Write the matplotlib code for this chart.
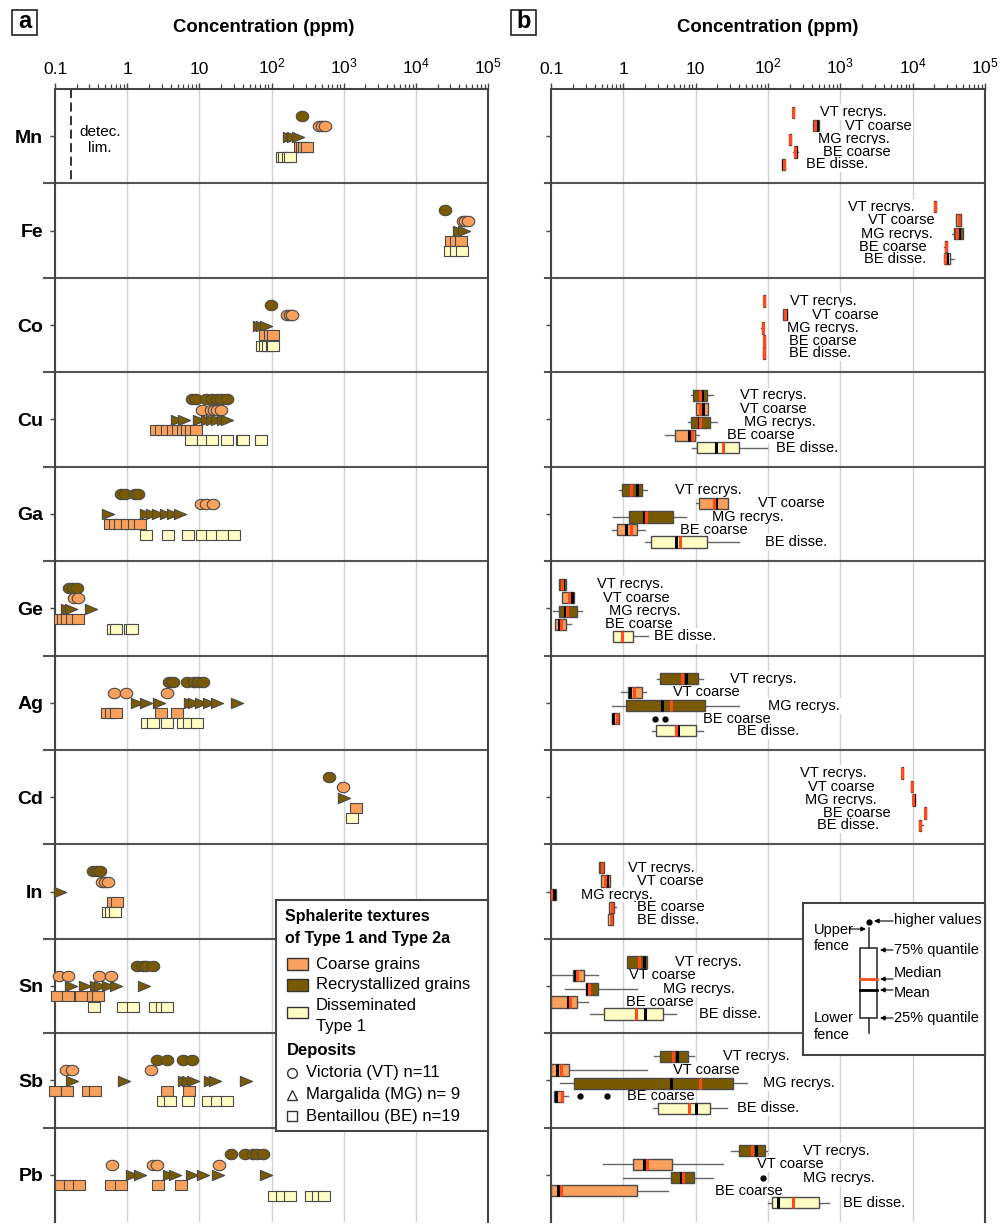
import numpy as np
import matplotlib.pyplot as plt
from matplotlib.patches import Rectangle
from matplotlib.path import Path
from matplotlib.ticker import NullFormatter, LogLocator

plt.rcParams['font.family'] = ['Liberation Sans', 'DejaVu Sans']
plt.rcParams['mathtext.fontset'] = 'custom'
plt.rcParams['mathtext.rm'] = 'Liberation Sans'
plt.rcParams['mathtext.it'] = 'Liberation Sans:italic'
plt.rcParams['mathtext.bf'] = 'Liberation Sans:bold'

elements = ['Mn', 'Fe', 'Co', 'Cu', 'Ga', 'Ge', 'Ag', 'Cd', 'In', 'Sn', 'Sb', 'Pb']
groups = ['VT recrys.', 'VT coarse', 'MG recrys.', 'BE coarse', 'BE disse.']
major_ticks = [0.1, 1, 10, 1e2, 1e3, 1e4, 1e5]
tick_labels = ['0.1', '1', '10', '$10^{2}$', '$10^{3}$', '$10^{4}$', '$10^{5}$']
detection_limit = 0.165

# ---- panel a: single analyses (ppm), one list per element ----
vt_recrys = [
    [265], [25000], [97],
    [8.0, 9.1, 12.2, 14.8, 17.3, 20.2, 23.9],
    [0.82, 0.93, 1.28, 1.43],
    [0.158, 0.179, 0.204],
    [3.83, 4.27, 6.67, 8.42, 9.66, 11.1],
    [630],
    [0.339, 0.386, 0.42],
    [1.35, 1.67, 1.82, 2.30],
    [2.56, 3.52, 5.98, 7.85],
    [27.1, 42.8, 55.8, 62.8, 75.3],
]
vt_coarse = [
    [450, 500, 550], [45000, 48000, 52000], [165, 180, 190],
    [10.8, 14.5, 16, 17.5, 20],
    [10.4, 12.2, 15.3],
    [0.185, 0.21],
    [0.656, 0.96, 3.52],
    [985],
    [0.443, 0.493, 0.547],
    [0.114, 0.153, 0.41, 0.59],
    [0.142, 0.170, 2.11],
    [0.61, 2.30, 2.56, 18.6],
]
mg_recrys = [
    [175, 200, 230], [40000, 46000], [68, 75, 85],
    [4.85, 6.1, 9.96, 12.6, 14.8, 17.4, 21.4, 23.9],
    [0.547, 1.82, 2.18, 2.70, 3.45, 4.35, 5.38],
    [0.148, 0.165, 0.312],
    [1.35, 1.82, 2.78, 7.41, 8.42, 10.4, 13.7, 17.4, 33.5],
    [1020],
    [0.117],
    [0.165, 0.26, 0.37, 0.42, 0.55, 0.71, 1.73],
    [0.17, 0.91, 6.1, 7.0, 8.2, 14.1, 16.4, 44],
    [1.15, 1.5, 3.8, 4.6, 7.85, 11.3, 18.3, 83],
]
be_coarse = [
    [250, 265, 285, 310], [31000, 36000, 42000], [80, 95, 105],
    [2.47, 2.94, 3.56, 4.31, 5.05, 5.93, 6.73, 7.65, 8.97],
    [0.587, 0.678, 0.794, 0.994, 1.24, 1.53],
    [0.119, 0.129, 0.147, 0.172, 0.208],
    [0.525, 0.597, 0.70, 2.91, 4.85],
    [1475],
    [0.635, 0.714],
    [0.107, 0.153, 0.227, 0.339, 0.39],
    [0.1, 0.145, 0.289, 0.36, 3.52, 7.18],
    [0.12, 0.161, 0.217, 0.59, 0.81, 2.7, 5.5],
]
be_disse = [
    [140, 150, 170, 178], [30000, 36000, 43000], [75, 80, 90, 100, 106],
    [7.65, 11.3, 15.1, 23.9, 38.5, 40, 70.6],
    [1.80, 3.71, 6.89, 11.0, 14.8, 20.8, 30.4],
    [0.646, 0.70, 1.09, 1.18],
    [1.90, 2.30, 3.56, 5.98, 7.18, 9.35],
    [1285],
    [0.55, 0.60, 0.68],
    [0.347, 0.885, 1.21, 2.42, 3.0, 3.6],
    [3.14, 3.9, 7.0, 13.3, 17.4, 23.9],
    [110, 141, 178, 350, 445, 535],
]

# ---- panel b: box statistics per element, columns follow `groups` ----
q1_b = [
    [219, 417, 198, 228, 158],
    [20000, 40000, 37800, 28000, 26700],
    [87, 163, 83, 87, 86.5],
    [9.12, 10.1, 8.63, 5.19, 10.6],
    [0.968, 11.2, 1.21, 0.826, 2.42],
    [0.129, 0.141, 0.129, 0.114, 0.713],
    [3.22, 1.17, 1.09, 0.692, 2.83],
    [7100, 9600, 10000, 14700, 12200],
    [0.466, 0.486, 0.100, 0.640, 0.608],
    [1.13, 0.200, 0.302, 0.100, 0.546],
    [3.22, 0.100, 0.210, 0.110, 3.05],
    [39.8, 1.35, 4.53, 0.100, 115],
]
q3_b = [
    [231, 514, 206, 250, 170],
    [21000, 46400, 49400, 29500, 33000],
    [91.5, 182, 86.5, 91, 90.5],
    [14.3, 15.0, 15.8, 9.8, 39.8],
    [1.80, 28.3, 4.92, 1.56, 14.3],
    [0.161, 0.210, 0.226, 0.161, 1.35],
    [10.7, 1.80, 13.5, 0.88, 10.0],
    [7350, 9900, 10700, 15100, 13100],
    [0.541, 0.654, 0.118, 0.743, 0.727],
    [2.15, 0.286, 0.451, 0.231, 3.57],
    [7.78, 0.179, 33.2, 0.148, 15.8],
    [91.2, 4.67, 9.51, 1.53, 514],
]
median_b = [
    [225, 452, 202, 239, 166],
    [20500, 43100, 40900, 28800, 28200],
    [89.2, 172, 84.7, 89, 88],
    [11.5, 11.5, 11.5, 8.84, 24.2],
    [1.26, 18.2, 2.06, 1.26, 6.09],
    [0.141, 0.179, 0.165, 0.138, 0.97],
    [6.43, 1.42, 4.53, 0.83, 5.36],
    [7230, 9750, 10000, 14900, 12700],
    [0.50, 0.559, 0.100, 0.692, 0.670],
    [1.63, 0.231, 0.339, 0.183, 1.50],
    [4.92, 0.136, 11.5, 0.143, 8.19],
    [60.8, 2.15, 6.64, 0.136, 220],
]
mean_b = [
    [225, 473, 202, 241, 160],
    [20500, 43100, 44400, 28800, 30300],
    [89.2, 175, 84.7, 89, 88.5],
    [12.4, 12.8, 11.2, 8.1, 19.0],
    [1.53, 19.2, 1.93, 1.08, 5.36],
    [0.148, 0.193, 0.156, 0.130, 0.95],
    [7.30, 1.24, 3.40, 0.727, 5.65],
    [7230, 9750, 10450, 14900, 12700],
    [0.51, 0.589, 0.110, 0.69, 0.670],
    [1.93, 0.215, 0.315, 0.170, 2.01],
    [5.58, 0.120, 4.53, 0.116, 10.1],
    [67.8, 1.95, 6.23, 0.126, 139],
]
fence_low_b = [
    [219, 417, 198, 220, 156],
    [20000, 40000, 34800, 27500, 26700],
    [87, 163, 81, 87, 85],
    [8.56, 10.1, 7.93, 3.77, 8.84],
    [0.871, 10.1, 0.727, 0.705, 2.01],
    [0.129, 0.141, 0.108, 0.114, 0.713],
    [2.90, 0.92, 0.692, 0.692, 2.47],
    [7100, 9600, 10000, 14700, 12200],
    [0.466, 0.486, 0.100, 0.640, 0.608],
    [1.13, 0.102, 0.156, 0.100, 0.346],
    [2.69, 0.100, 0.133, 0.110, 2.55],
    [30.5, 0.519, 1.0, 0.100, 101],
]
fence_high_b = [
    [231, 514, 206, 258, 172],
    [21000, 46400, 50400, 30000, 36700],
    [91.5, 182, 88, 91, 91],
    [17.6, 15.0, 19.9, 11.2, 96.2],
    [2.15, 28.3, 7.3, 2.01, 40.2],
    [0.161, 0.210, 0.266, 0.187, 2.2],
    [12.5, 2.06, 40.2, 0.88, 12.8],
    [7350, 9900, 10700, 15100, 13700],
    [0.541, 0.654, 0.118, 0.792, 0.727],
    [2.15, 0.443, 1.53, 0.322, 5.31],
    [9.59, 2.11, 50.9, 0.173, 26.9],
    [96.2, 23.7, 17.6, 4.19, 706],
]
outliers_b = {('Ag', 'BE coarse'): [2.74, 3.77],
              ('Sb', 'BE coarse'): [0.252, 0.589],
              ('Pb', 'MG recrys.'): [86.5]}
label_x_b = [
    [526, 1165, 489, 573, 336],
    [1294, 2449, 1922, 1820, 2155],
    [202, 403, 185, 198, 198],
    [41.1, 41.1, 46.7, 27.4, 128],
    [5.19, 73.6, 16.7, 6.09, 91.2],
    [0.436, 0.519, 0.640, 0.559, 2.69],
    [29.9, 4.92, 101, 12.5, 37.0],
    [278, 362, 326, 584, 482],
    [1.17, 1.53, 0.258, 1.56, 1.56],
    [5.19, 1.21, 3.57, 1.09, 11.2],
    [23.7, 4.82, 86.3, 1.14, 37.0],
    [303, 70.0, 309, 18.5, 1083],
]

# ---- styles ----
c_coarse = '#F9A05C'
c_recrys = '#7A5A00'
c_disse = '#FFFDC4'
c_median = '#FF4A1C'
c_edge = '#4A4A4A'
c_spine = '#444444'

group_colors = [c_recrys, c_coarse, c_recrys, c_coarse, c_disse]
offs_a = [-0.215, -0.105, 0.005, 0.11, 0.22]
offs_b = [-0.254, -0.111, 0.032, 0.169, 0.297]

t = np.linspace(0, 2 * np.pi, 41)
ellipse = Path(np.column_stack([1.2 * np.cos(t), np.sin(t)]), closed=True)
tri_right = Path([(1.2, 0), (-1.2, 1), (-1.2, -1), (1.2, 0)], closed=True)
rect = Path([(-1.22, -1), (1.22, -1), (1.22, 1), (-1.22, 1), (-1.22, -1)], closed=True)
group_markers = [ellipse, ellipse, tri_right, rect, rect]
group_ms = [9.0, 9.0, 8.8, 8.2, 8.2]

W, H = 1000, 1224
fig = plt.figure(figsize=(W / 100, H / 100), dpi=100)


def px_axes(x0, x1, y0, y1):
    return fig.add_axes([x0 / W, 1 - y1 / H, (x1 - x0) / W, (y1 - y0) / H])


def style_axis(ax, ylabels, sep_ext):
    n = len(elements)
    ax.set_xscale('log')
    ax.set_xlim(0.1, 1e5)
    ax.set_ylim(n, 0)
    ax.xaxis.tick_top()
    ax.set_xticks(major_ticks, tick_labels)
    ax.xaxis.set_minor_locator(LogLocator(base=10, subs=np.arange(2, 10), numticks=30))
    ax.xaxis.set_minor_formatter(NullFormatter())
    ax.tick_params(axis='x', which='major', length=4.5, width=1, color=c_spine,
                   labelsize=12.5, pad=4.5, top=True, bottom=False,
                   labeltop=True, labelbottom=False)
    ax.tick_params(axis='x', which='minor', length=3.5, width=0.9, color=c_spine,
                   top=True, bottom=False)
    ax.set_yticks(np.arange(n) + 0.5, ylabels)
    ax.tick_params(axis='y', length=3.6, width=1, color=c_spine, pad=5, labelsize=14)
    for lab in ax.get_yticklabels():
        lab.set_fontweight('bold')
    ax.grid(axis='x', which='major', color='#d2d2d2', lw=1)
    ax.set_axisbelow(True)
    for s in ['top', 'left', 'right']:
        ax.spines[s].set_linewidth(1.5)
        ax.spines[s].set_color(c_spine)
    ax.spines['bottom'].set_visible(False)
    for i in range(1, n):
        ax.plot([sep_ext, 1], [i, i], transform=ax.get_yaxis_transform(),
                color='#555555', lw=1.5, clip_on=False, zorder=1)


ax_a = px_axes(55, 488, 89, 1222)
ax_b = px_axes(551, 985, 89, 1222)
style_axis(ax_a, elements, -0.025)
style_axis(ax_b, [''] * len(elements), -0.014)

# panel a points
data_a = [vt_recrys, vt_coarse, mg_recrys, be_coarse, be_disse]
for r in range(len(elements)):
    for g in range(5):
        vals = data_a[g][r]
        ax_a.plot(vals, [r + 0.5 + offs_a[g]] * len(vals), ls='none',
                  marker=group_markers[g], ms=group_ms[g], mfc=group_colors[g],
                  mec=c_edge, mew=0.8, clip_on=False, zorder=4)

ax_a.plot([detection_limit, detection_limit], [0, 1], color='#222222', lw=1.3,
          ls=(0, (5, 2.5)), zorder=2)
ax_a.text(0.42, 0.54, 'detec.\nlim.', ha='center', va='center', fontsize=11,
          linespacing=1.15)

# panel b boxes
stats, positions, colors = [], [], []
for r, el in enumerate(elements):
    for g, name in enumerate(groups):
        stats.append(dict(q1=q1_b[r][g], q3=q3_b[r][g], med=median_b[r][g],
                          mean=mean_b[r][g], whislo=fence_low_b[r][g],
                          whishi=fence_high_b[r][g],
                          fliers=outliers_b.get((el, name), [])))
        positions.append(r + 0.5 + offs_b[g])
        colors.append(group_colors[g])

bxp_kw = dict(positions=positions, widths=0.12, patch_artist=True, showmeans=True,
              meanline=True, showcaps=False, manage_ticks=False,
              boxprops=dict(edgecolor=c_edge, linewidth=1),
              whiskerprops=dict(color='#666666', linewidth=1),
              medianprops=dict(color=c_median, linewidth=2.2),
              meanprops=dict(color='black', linewidth=2.2, linestyle='-'),
              flierprops=dict(marker='o', markerfacecolor='black',
                              markeredgecolor='black', markersize=3.5))
try:
    out = ax_b.bxp(stats, orientation='horizontal', **bxp_kw)
except TypeError:
    out = ax_b.bxp(stats, vert=False, **bxp_kw)
for box, col in zip(out['boxes'], colors):
    box.set_facecolor(col)
    box.set_zorder(4.5)
for ln in out['whiskers']:
    ln.set_zorder(4.4)
for ln in out['means']:
    ln.set_zorder(4.8)
for ln in out['medians']:
    ln.set_zorder(4.9)
for ln in out['fliers']:
    ln.set_zorder(4.9)

for r in range(len(elements)):
    for g, name in enumerate(groups):
        ax_b.text(label_x_b[r][g], r + 0.5 + offs_b[g], name, ha='left', va='center',
                  fontsize=10.5, zorder=3,
                  bbox=dict(facecolor='white', edgecolor='none', pad=0.6))

# ---- overlay in pixel coordinates for titles and keys ----
ov = fig.add_axes([0, 0, 1, 1], zorder=10)
ov.set_xlim(0, W)
ov.set_ylim(H, 0)
ov.axis('off')
ov.patch.set_alpha(0)

for lab, x0, xc in [('a', 12, 264), ('b', 511, 768)]:
    ov.add_patch(Rectangle((x0, 10), 25, 25, fc='white', ec='#222222', lw=1.2))
    ov.text(x0 + 12.5, 22, lab, ha='center', va='center', fontsize=17, fontweight='bold')
    ov.text(xc, 27, 'Concentration (ppm)', ha='center', va='center', fontsize=13.3,
            fontweight='bold')

# key for panel a
ov.add_patch(Rectangle((276, 900), 212, 231, fc='white', ec=c_spine, lw=1.5, zorder=5))
ov.text(285, 917, 'Sphalerite textures', fontsize=11.5, fontweight='bold',
        va='center', zorder=6)
ov.text(285, 938, 'of Type 1 and Type 2a', fontsize=11.5, fontweight='bold',
        va='center', zorder=6)
for y, col in [(958, c_coarse), (979, c_recrys), (1006.5, c_disse)]:
    ov.add_patch(Rectangle((287, y), 21, 11.5, fc=col, ec='#333333', lw=1, zorder=6))
for y, txt in [(964, 'Coarse grains'), (985, 'Recrystallized grains'),
               (1006, 'Disseminated'), (1027, 'Type 1')]:
    ov.text(316, y, txt, fontsize=12, va='center', zorder=6)
ov.text(286.5, 1051, 'Deposits', fontsize=12, fontweight='bold', va='center', zorder=6)
for y, mk, txt in [(1073, 'o', 'Victoria (VT) n=11'),
                   (1095, '^', 'Margalida (MG) n= 9'),
                   (1116, 's', 'Bentaillou (BE) n=19')]:
    ov.plot(291.5, y, marker=mk, ms=7, mfc='none', mec='#333333', mew=1, zorder=6)
    ov.text(306.5, y, txt, fontsize=12, va='center', zorder=6)

# key for panel b
ov.add_patch(Rectangle((803, 903), 182, 152, fc='white', ec=c_spine, lw=1.5, zorder=5))
ov.add_patch(Rectangle((860, 948), 17, 70, fc='white', ec='#333333', lw=1.2, zorder=6))
ov.plot([868.5, 868.5], [928, 948], color='#333333', lw=1.2, zorder=6)
ov.plot([868.5, 868.5], [1018, 1033], color='#333333', lw=1.2, zorder=6)
ov.plot([860, 877], [979, 979], color=c_median, lw=2, zorder=7)
ov.plot([860, 877], [990, 990], color='black', lw=2, zorder=7)
ov.plot(869, 922, 'o', color='black', ms=3.5, zorder=7)
arrow_kw = dict(arrowstyle='-|>', color='black', lw=0.8, mutation_scale=7,
                shrinkA=0, shrinkB=0)
for x0, x1, y in [(893, 874, 921), (849, 866, 929), (893, 880, 950),
                  (893, 880, 979), (893, 880, 990), (893, 880, 1018)]:
    ov.annotate('', xy=(x1, y), xytext=(x0, y), arrowprops=arrow_kw, zorder=7)
for x, y, txt in [(894, 920, 'higher values'), (814, 930, 'Upper'), (814, 946, 'fence'),
                  (894, 950, '75% quantile'), (894, 973, 'Median'), (894, 993, 'Mean'),
                  (894, 1018, '25% quantile'), (814, 1018, 'Lower'), (814, 1035, 'fence')]:
    ov.text(x, y, txt, fontsize=10.5, va='center', zorder=7)

fig.savefig('out.png', dpi=100)
